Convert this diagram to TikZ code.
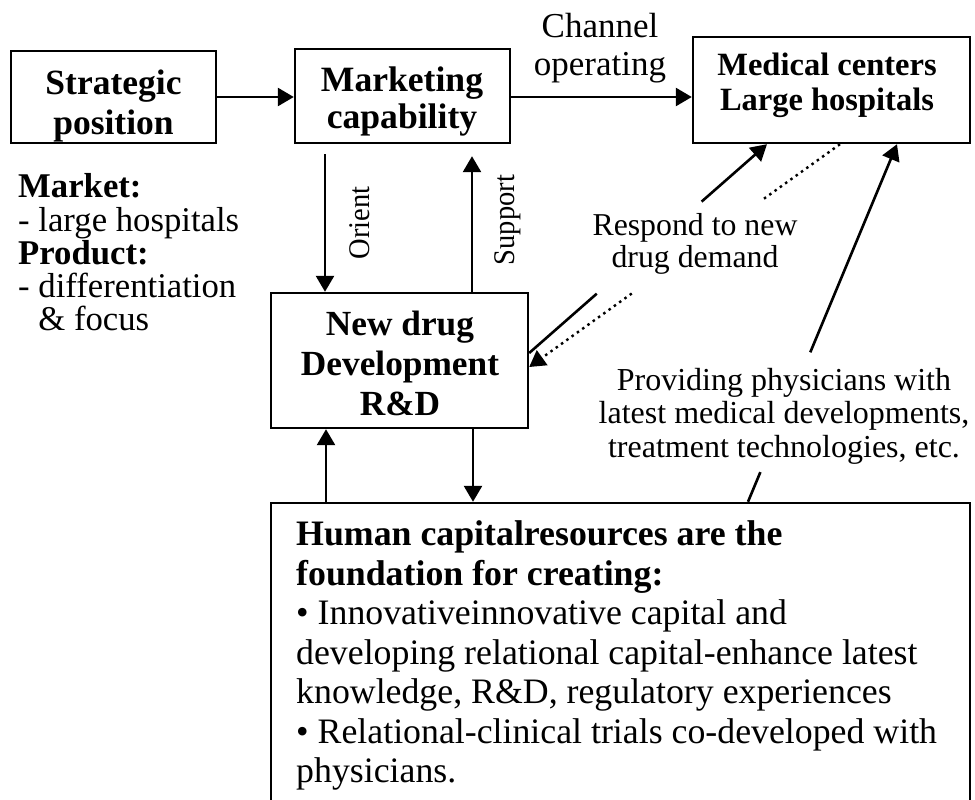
\documentclass[tikz,border=0pt]{standalone}
\usepackage{fontspec}
\setmainfont{Liberation Serif}
\newfontfamily\rotfont{Liberation Serif}[FakeStretch=0.95]
\usetikzlibrary{arrows.meta,calc}
\begin{document}
\begin{tikzpicture}[x=1pt,y=-1pt,
  box/.style={draw,line width=2.4pt,inner sep=0pt},
  tip/.style={-{Triangle[length=16pt,width=18pt]}},
  arr/.style={line width=2.6pt,tip},
  ln/.style={line width=2.6pt},
  dot/.style={line width=2.4pt,dash pattern=on 2.5pt off 4pt},
  txt/.style={inner sep=0pt,align=center},
  rot/.style={inner sep=0pt,rotate=90,font=\rotfont\fontsize{30}{34}\selectfont}
]
\useasboundingbox (0,0) rectangle (975,800);
\clip (0,0) rectangle (975,800);

% boxes
\node[box,minimum width=205pt,minimum height=92pt] (sp) at (113.5,97) {};
\node[txt,font=\bfseries\fontsize{35.5}{40}\selectfont] (sptx) at (113.5,105.8) {Strategic\\position};

\node[box,minimum width=215pt,minimum height=94pt] (mc) at (402.5,96) {};
\node[txt,font=\bfseries\fontsize{35.6}{37}\selectfont] (mctx) at (402,101.3) {Marketing\\capability};

\node[box,minimum width=277pt,minimum height=106pt] (med) at (831.5,90) {};
\node[txt,font=\bfseries\fontsize{32.5}{35}\selectfont] (medtx) at (827,85) {Medical centers\\Large hospitals};

\node[box,minimum width=257pt,minimum height=135pt] (nd) at (399.5,360.5) {};
\node[txt,font=\bfseries\fontsize{35.3}{40}\selectfont] (ndtx) at (400,363) {New drug\\Development\\R\&D};

\node[box,minimum width=699pt,minimum height=330pt] (hum) at (620.5,668) {};
\node[inner sep=0pt,align=left,anchor=north west,font=\fontsize{35.8}{39.5}\selectfont] (humtx) at (296,520.8)
  {\textbf{Human capitalresources are the}\\
   \textbf{foundation for creating:}\\
   • Innovativeinnovative capital and\\
   developing relational capital-enhance latest\\
   knowledge, R\&D, regulatory experiences\\
   • Relational-clinical trials co-developed with\\
   physicians.};

% free texts
\node[txt,font=\fontsize{35}{38}\selectfont] (chan) at (600,47.9) {Channel\\operating};
\node[inner sep=0pt,align=left,anchor=north west,font=\fontsize{34.7}{33.25}\selectfont] (left) at (18,173.5)
  {\textbf{Market:}\\- large hospitals\\\textbf{Product:}\\- differentiation\\\hphantom{-}\ \& focus};
\node[rot] (orient) at (360,223) {Orient};
\node[rot] (support) at (508,220) {Support};
\node[txt,font=\fontsize{31.8}{32}\selectfont] (resp) at (695,243.7) {Respond to new\\drug demand};
\node[txt,font=\fontsize{32}{33.5}\selectfont] (prov) at (784,416) {Providing physicians with\\latest medical developments,\\treatment technologies, etc.};

% horizontal arrows
\draw[arr] (sp.east) -- (sp.east -| mc.west);
\draw[arr] (sp.east -| mc.east) -- (sp.east -| med.west);

% orient / support
\coordinate (o1) at ([xshift=-77.5pt,yshift=-10pt]mc.south);
\draw[arr] (o1) -- (o1 |- nd.north);
\coordinate (s1) at ([xshift=72.5pt]nd.north);
\draw[arr] (s1) -- ($(s1 |- mc.south)+(0,12)$);

% bottom pair
\coordinate (u1) at ([xshift=-73.5pt]nd.south);
\draw[arr] (u1 |- hum.north) -- (u1);
\coordinate (d1) at ([xshift=73.5pt]nd.south);
\draw[arr] (d1) -- (d1 |- hum.north);

% diagonals
\coordinate (A) at ([yshift=7.5pt]nd.east);
\coordinate (B) at ([xshift=-64.5pt]med.south);
\draw[ln] (A) -- ($(A)!0.284!(B)$);
\draw[arr] ($(A)!0.725!(B)$) -- (B);

\coordinate (C) at ([xshift=8.5pt]med.south);
\coordinate (D) at ([yshift=-6.5pt]nd.east);
\draw[dot] (C) -- ($(C)!0.25!(D)$);
\draw[dot,tip] ($(C)!0.67!(D)$) -- (D);

\coordinate (E) at ([xshift=127.5pt]hum.north);
\coordinate (F) at ([xshift=65.5pt]med.south);
\draw[ln] (E) -- ($(E)!0.083!(F)$);
\draw[arr] ($(E)!0.418!(F)$) -- (F);
\end{tikzpicture}
\end{document}
